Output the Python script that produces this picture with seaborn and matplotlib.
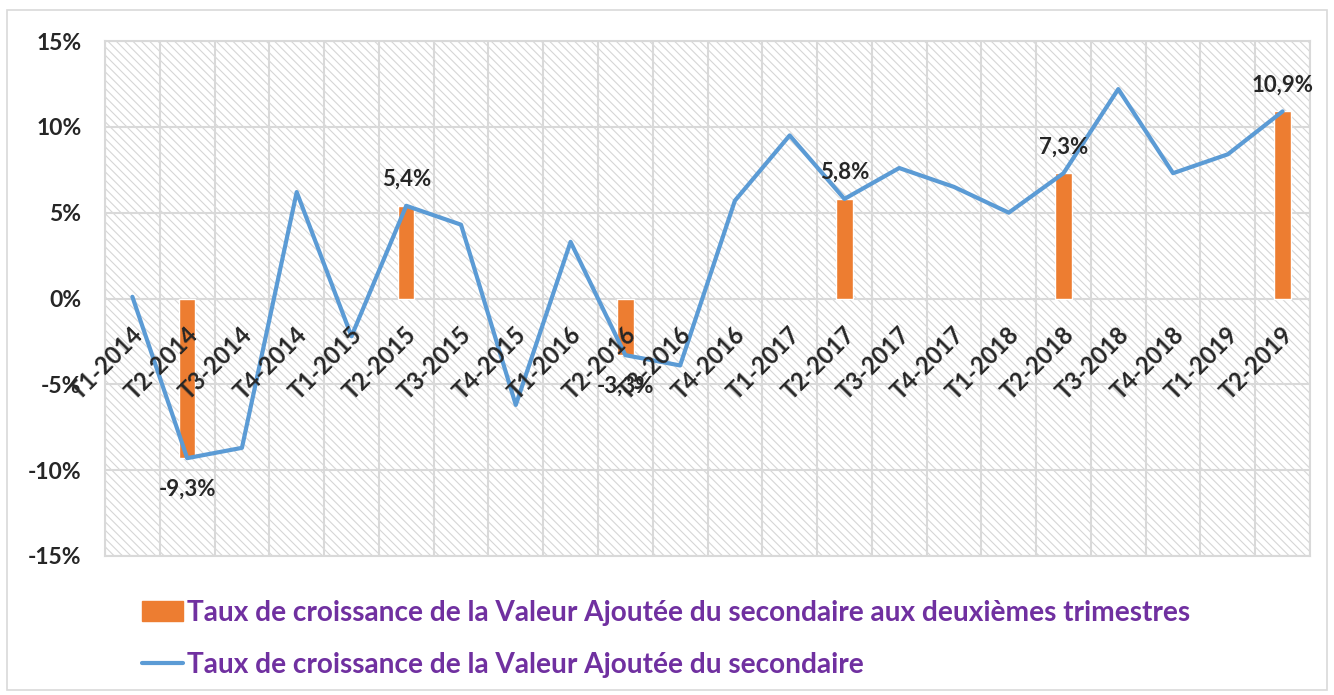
import numpy as np
import pandas as pd
import matplotlib
matplotlib.use("Agg")
import matplotlib.pyplot as plt
import matplotlib.patches as mpatches
import matplotlib.lines as mlines
import seaborn as sns

# trimestres
trimestres = ["T1-2014", "T2-2014", "T3-2014", "T4-2014",
              "T1-2015", "T2-2015", "T3-2015", "T4-2015",
              "T1-2016", "T2-2016", "T3-2016", "T4-2016",
              "T1-2017", "T2-2017", "T3-2017", "T4-2017",
              "T1-2018", "T2-2018", "T3-2018", "T4-2018",
              "T1-2019", "T2-2019"]

# taux de croissance (%) - courbe
taux_va = [0.1, -9.3, -8.7, 6.2, -2.2, 5.4, 4.3, -6.2, 3.3, -3.3, -3.9,
           5.7, 9.5, 5.8, 7.6, 6.5, 5.0, 7.3, 12.2, 7.3, 8.4, 10.9]

# deuxiemes trimestres - barres
trim_t2 = ["T2-2014", "T2-2015", "T2-2016", "T2-2017", "T2-2018", "T2-2019"]
taux_t2 = [-9.3, 5.4, -3.3, 5.8, 7.3, 10.9]

lab_barres = "Taux de croissance de la Valeur Ajoutée du secondaire aux deuxièmes trimestres"
lab_courbe = "Taux de croissance de la Valeur Ajoutée du secondaire"

orange = "#ED7D31"
bleu = "#5B9BD5"
violet = "#7030A0"
gris = "#D9D9D9"

sns.set_style("white")
plt.rcParams["font.family"] = ["Lato", "DejaVu Sans"]
plt.rcParams["font.weight"] = "bold"
plt.rcParams["hatch.linewidth"] = 0.8

fig = plt.figure(figsize=(13.34, 6.95), dpi=100)
ax = fig.add_axes([105 / 1334, 1 - 556 / 695, 1205 / 1334, 515 / 695])

# fond hachuré
ax.patch.set_facecolor("white")
ax.patch.set_edgecolor("#D6D6D6")
ax.patch.set_linewidth(0)
ax.patch.set_hatch("\\\\\\\\")

df_t2 = pd.DataFrame({"trimestre": trim_t2, "taux": taux_t2})
sns.barplot(data=df_t2, x="trimestre", y="taux", order=trimestres,
            color=orange, saturation=1, width=0.3, ax=ax, zorder=3)

df = pd.DataFrame({"pos": np.arange(len(trimestres)), "taux": taux_va})
sns.lineplot(data=df, x="pos", y="taux", color=bleu, linewidth=3, ax=ax, zorder=4)

ax.set_xlim(-0.5, len(trimestres) - 0.5)
ax.set_ylim(-15, 15)
ax.set_yticks([-15, -10, -5, 0, 5, 10, 15])
ax.set_yticklabels([f"{v}%" for v in [-15, -10, -5, 0, 5, 10, 15]],
                   fontsize=16.5, fontweight="bold")
ax.set_xticks(np.arange(-0.5, len(trimestres), 1))
ax.set_xticklabels([])
ax.tick_params(length=0, pad=17)
ax.grid(True, color=gris, linewidth=1.5)
ax.set_axisbelow(True)
for s in ax.spines.values():
    s.set_color(gris)
    s.set_linewidth(1.5)
ax.set_xlabel("")
ax.set_ylabel("")

# étiquettes des trimestres sur l'axe 0
for i, t in enumerate(trimestres):
    ax.text(i + 0.12, -1.9, t, rotation=45, rotation_mode="anchor",
            ha="right", va="center", fontsize=17, fontweight="bold",
            zorder=5, clip_on=False)

# étiquettes des barres
for t, v in zip(trim_t2, taux_t2):
    i = trimestres.index(t)
    dy = 19 if v > 0 else -22
    ax.annotate(f"{v:.1f}%".replace(".", ","), (i, v), xytext=(0, dy),
                textcoords="offset points", ha="center", va="center",
                fontsize=16, fontweight="bold", zorder=6)

# légende
h1 = mpatches.Patch(color=orange)
h2 = mlines.Line2D([], [], color=bleu, linewidth=3)
fig.legend([h1, h2], [lab_barres, lab_courbe], loc="upper left",
           bbox_to_anchor=(142 / 1334, 1 - 600 / 695), frameon=False,
           labelcolor=violet, handlelength=1.45,
           handletextpad=0.15, labelspacing=0.92, borderpad=0,
           borderaxespad=0, prop={"weight": "bold", "size": 20.2})

# cadre extérieur
fig.patches.append(mpatches.Rectangle((7 / 1334, 5 / 695), 1320 / 1334, 680 / 695,
                                      transform=fig.transFigure, fill=False,
                                      edgecolor=gris, linewidth=1.2))

fig.savefig("out.png", dpi=100)
